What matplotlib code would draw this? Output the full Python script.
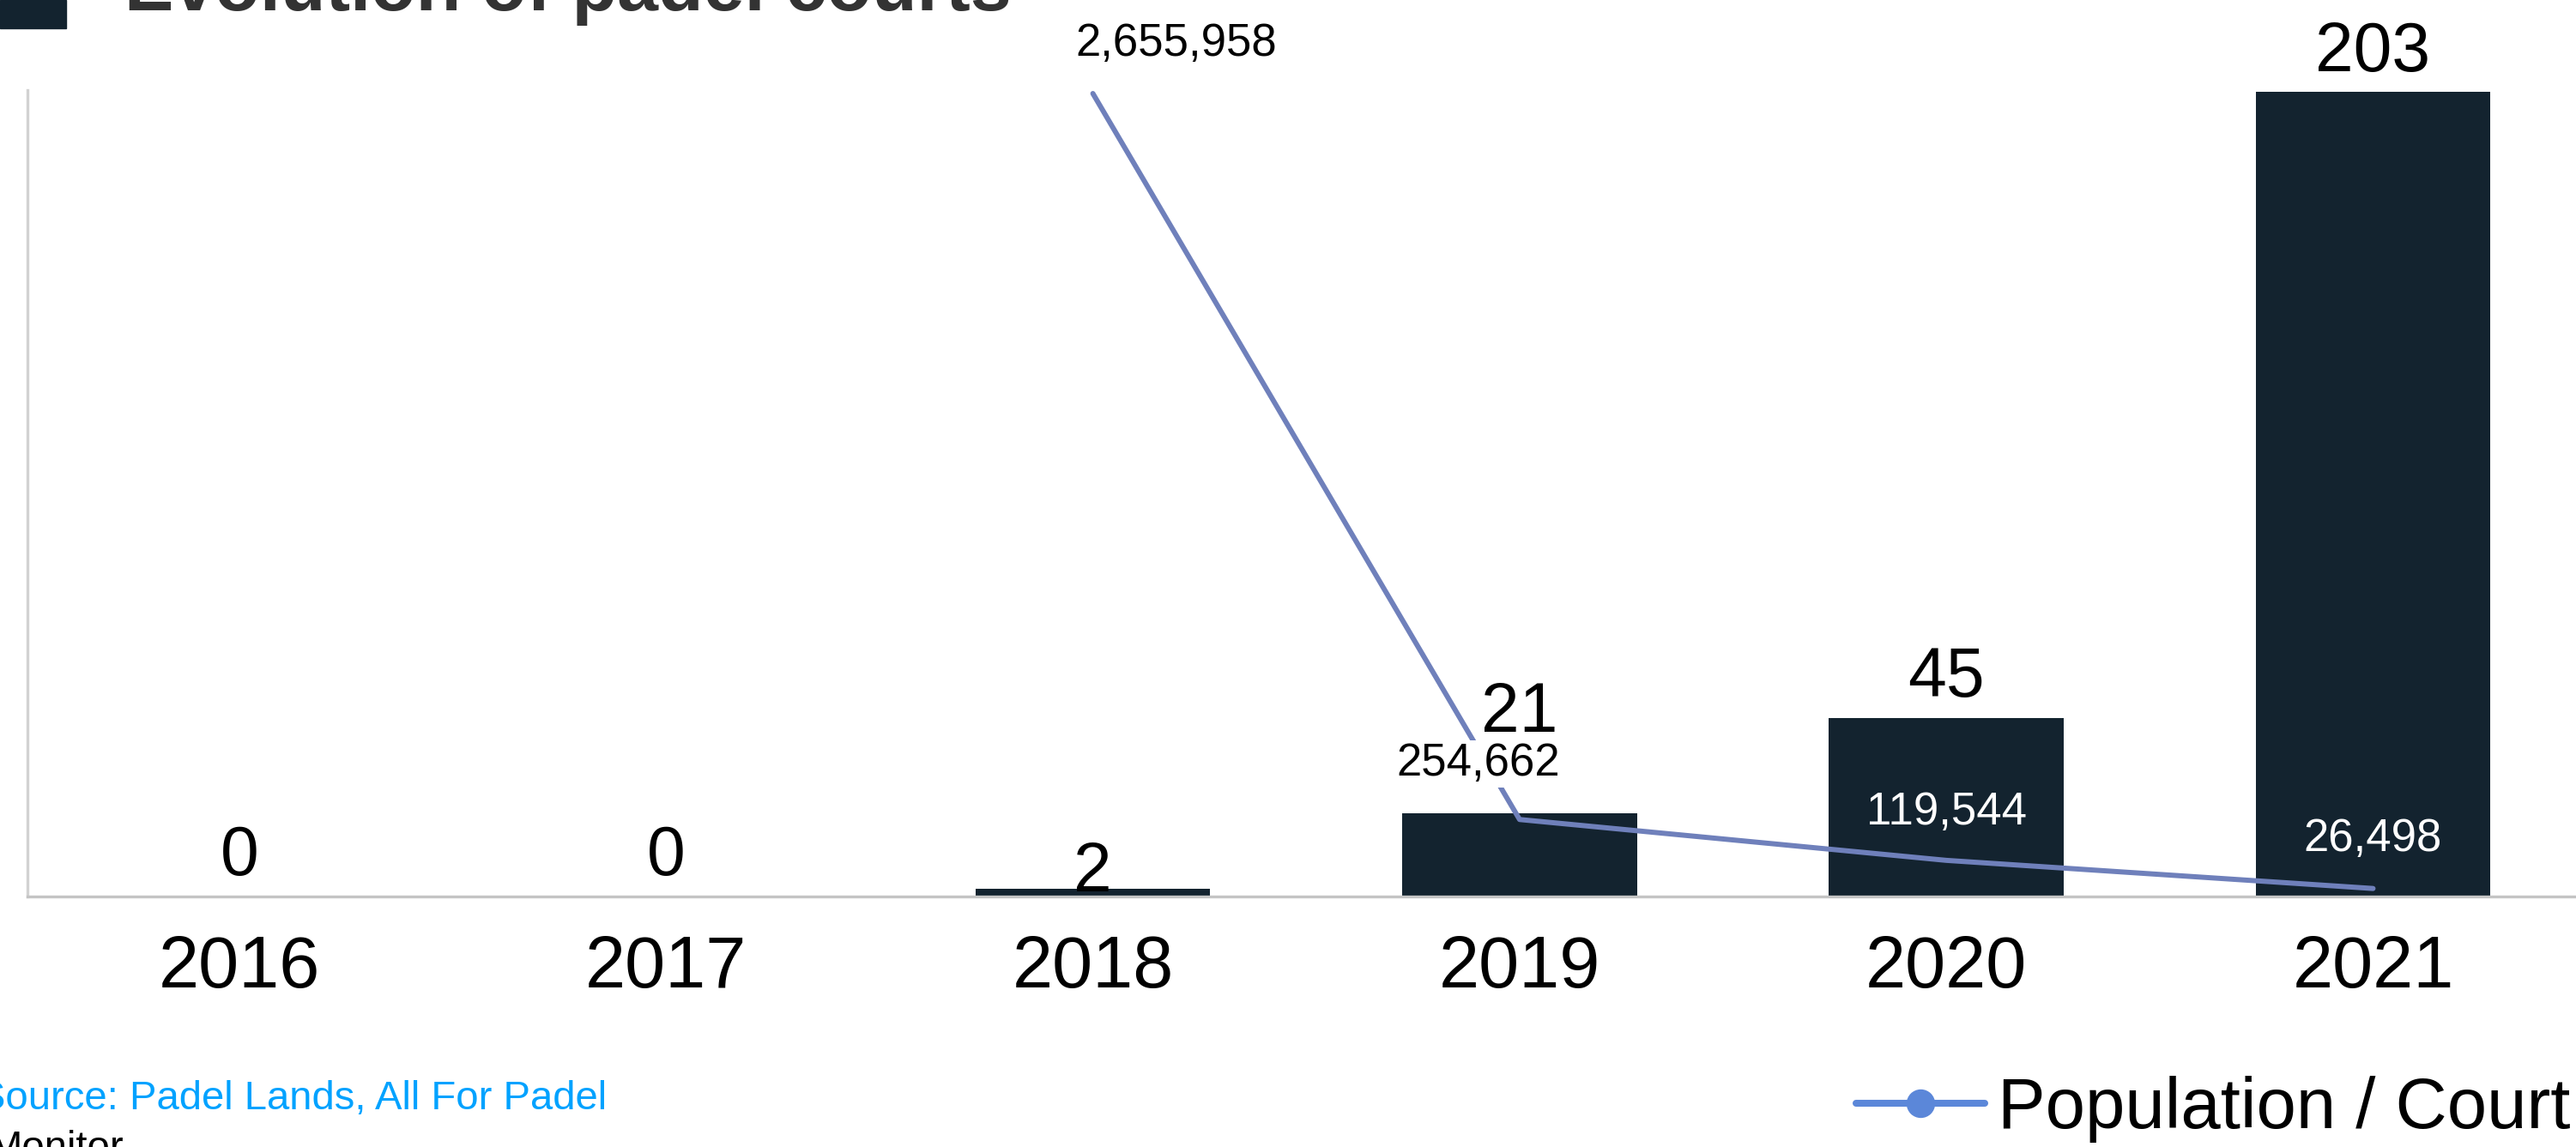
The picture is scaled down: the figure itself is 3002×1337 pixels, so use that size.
import matplotlib
matplotlib.use('Agg')
import matplotlib.pyplot as plt
from matplotlib.lines import Line2D
from matplotlib.patches import Rectangle

plt.rcParams['font.family'] = ['Liberation Sans', 'DejaVu Sans']

# ── DATA ─────────────────────────────────────────────────────────────────────
years  = ['2016', '2017', '2018', '2019', '2020', '2021']
courts = [0, 0, 2, 21, 45, 203]

line_years = ['2018', '2019', '2020', '2021']
pop_per_court = [2655958, 254662, 119544, 26498]

# ── STYLE ────────────────────────────────────────────────────────────────────
W, H = 3002, 1337
BAR_COLOR  = '#13232f'
LINE_COLOR = '#6f80bb'
LEG_COLOR  = '#5b87d9'

# label offsets in pixels (bar labels: baseline above bar top)
bar_lab_dy  = [25, 25, -3, 95, 25, 24]
line_lab_dx = [97, -48, 0, 0]
line_lab_dy = [44, 51, 42, 44]
line_lab_col = ['black', 'black', 'white', 'white']

fig = plt.figure(figsize=(W / 100, H / 100), dpi=100)
ax = fig.add_axes([32 / W, 292 / H, (W - 32) / W, 940 / H])

x = list(range(len(years)))
ax.bar(x, courts, width=0.55, color=BAR_COLOR, zorder=2)
ax.set_xlim(-0.4967, 5.4756)
ax.set_ylim(0, 203.5)

for i, v in enumerate(courts):
    ax.annotate(f'{v}', (i, v), xytext=(0, bar_lab_dy[i]),
                textcoords='offset pixels', ha='center', va='baseline',
                fontsize=58, color='black', zorder=5)

ax.set_xticks(x, years)
ax.tick_params(axis='x', length=0, pad=32, labelsize=61, colors='black')
ax.set_yticks([])
for s in ['top', 'right']:
    ax.spines[s].set_visible(False)
ax.spines['bottom'].set_color('#c4c4c4')
ax.spines['bottom'].set_linewidth(2.4)
ax.spines['left'].set_color('#d2d2d2')
ax.spines['left'].set_linewidth(2.4)

# ── LIGNE population / court ─────────────────────────────────────────────────
ax2 = ax.twinx()
lx = [years.index(y) for y in line_years]
ax2.plot(lx, pop_per_court, color=LINE_COLOR, lw=4.3, zorder=3,
         solid_capstyle='round')
ax2.set_ylim(0, 2667300)
ax2.set_yticks([])
for s in ax2.spines.values():
    s.set_visible(False)

for i, (xx, v) in enumerate(zip(lx, pop_per_court)):
    kw = {}
    if i == 1:
        kw['bbox'] = dict(facecolor='white', edgecolor='none', pad=2)
    ax2.annotate(f'{v:,}', (xx, v), xytext=(line_lab_dx[i], line_lab_dy[i]),
                 textcoords='offset pixels', ha='center', va='baseline',
                 fontsize=38, color=line_lab_col[i], zorder=6, **kw)

# ── TITRE / SOURCE / LÉGENDE ─────────────────────────────────────────────────
fig.patches.append(Rectangle((0, 1 - 33 / H), 77 / W, 33 / H,
                             transform=fig.transFigure, color=BAR_COLOR))
fig.text(145 / W, 1 - 12 / H, 'Evolution of padel courts', fontsize=62,
         fontweight='bold', color='#333333', ha='left', va='baseline')

fig.text(-25 / W, 1 - 1293 / H, 'Source: Padel Lands, All For Padel',
         fontsize=34, color='#00a2ff', ha='left', va='baseline')
fig.text(-14 / W, 1 - 1351 / H, 'Monitor', fontsize=34, color='black',
         ha='left', va='baseline')

handle = Line2D([], [], color=LEG_COLOR, lw=5.8, marker='o', ms=23,
                solid_capstyle='round')
fig.legend(handles=[handle], labels=['Population / Court'],
           loc='center left', bbox_to_anchor=(2163 / W, 1 - 1293 / H),
           frameon=False, fontsize=60, handlelength=1.8, handletextpad=0.18,
           borderpad=0, borderaxespad=0)

fig.savefig('out.png', dpi=100)
